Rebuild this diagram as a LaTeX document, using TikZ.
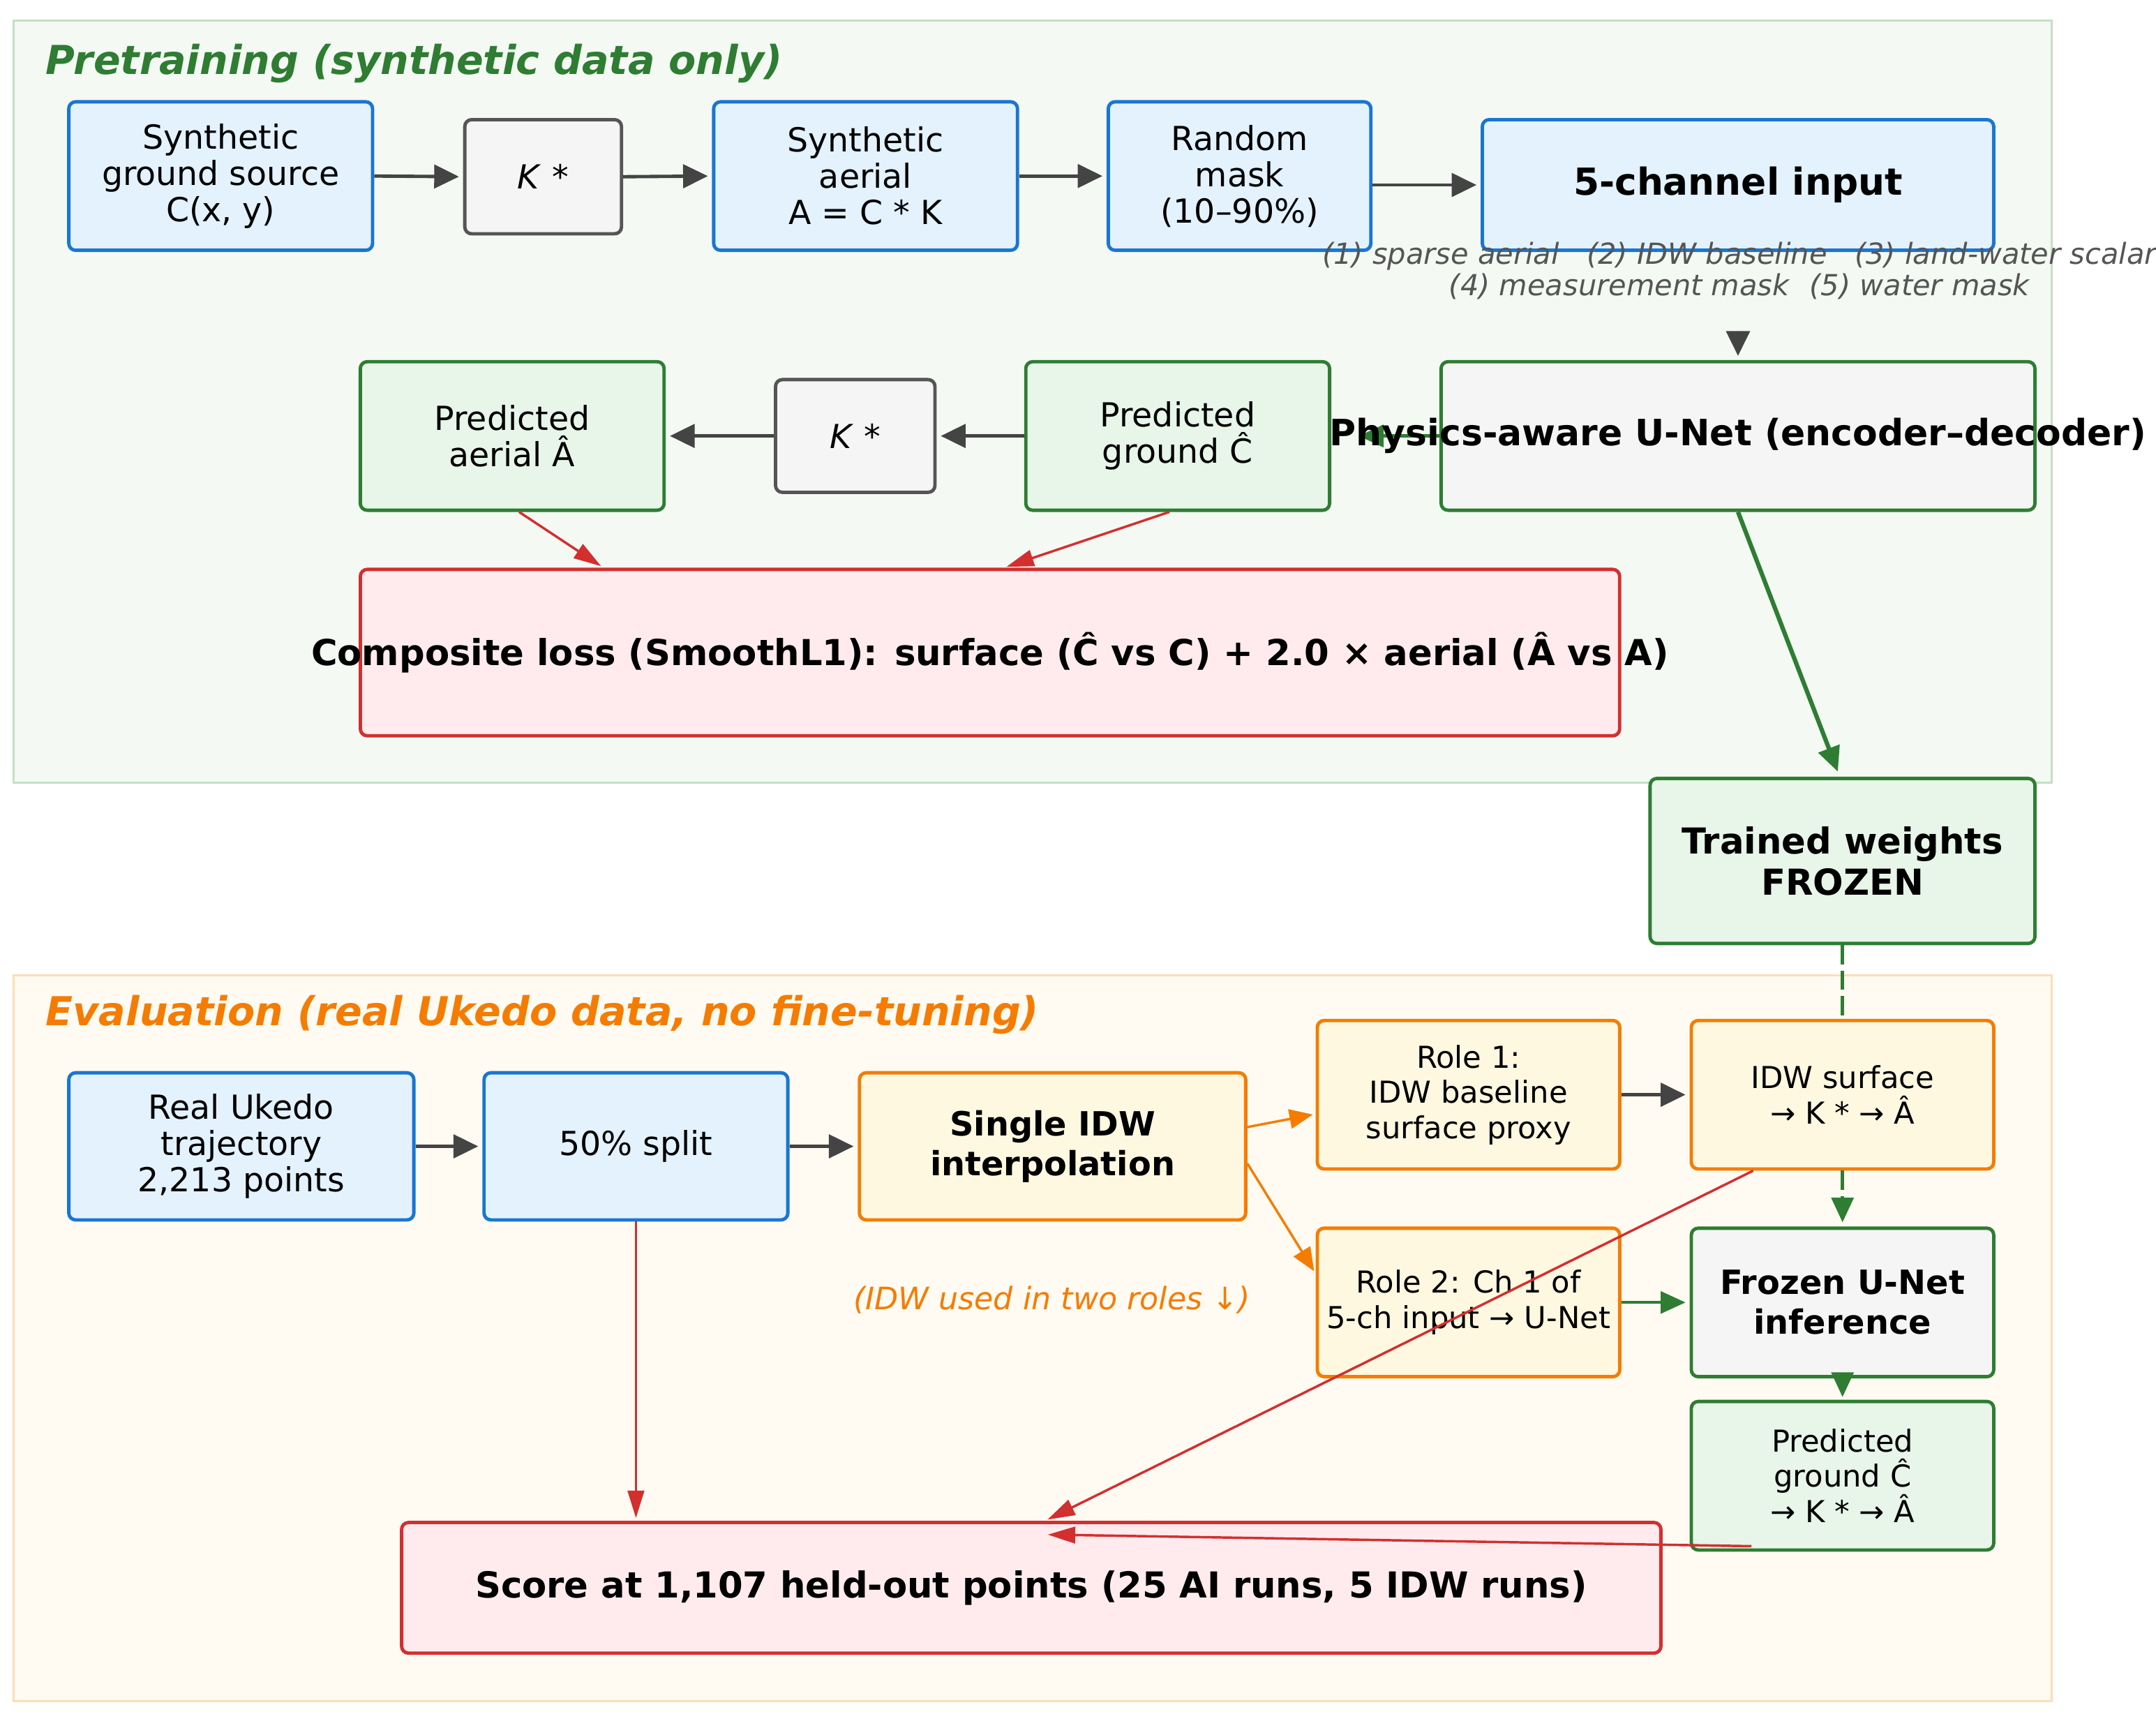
\documentclass[tikz,border=0pt]{standalone}
\usepackage{fontspec}
\setmainfont{DejaVu Sans}
\usepackage{xcolor}
\usetikzlibrary{arrows.meta,calc,backgrounds}
\definecolor{blueE}{HTML}{1976D2}
\definecolor{blueF}{HTML}{E3F2FD}
\definecolor{greenE}{HTML}{2E7D32}
\definecolor{greenF}{HTML}{E8F5E9}
\definecolor{orangeE}{HTML}{F57C00}
\definecolor{orangeF}{HTML}{FFF8E1}
\definecolor{redE}{HTML}{D32F2F}
\definecolor{redF}{HTML}{FFEBEE}
\definecolor{greyE}{HTML}{555555}
\definecolor{greyF}{HTML}{F5F5F5}
\definecolor{arrgrey}{HTML}{444444}
\definecolor{preF}{HTML}{F4F9F4}
\definecolor{preE}{HTML}{C3E0C4}
\definecolor{evalF}{HTML}{FFFBF3}
\definecolor{evalE}{HTML}{FFDDB5}
\newcommand{\regfont}{\fontsize{13.7}{15}\selectfont}
\newcommand{\cellfont}{\fontsize{12.5}{14.6}\selectfont}
\newcommand{\heavyfont}{\fontsize{14.8}{17}\selectfont\bfseries}
\newcommand{\cellheavy}{\fontsize{13.8}{16.5}\selectfont\bfseries}

\begin{document}
\begin{tikzpicture}[x=0.02cm, y=-0.02cm,
    box/.style={draw, rounded corners=0.1cm, line width=1.4pt,
                align=center, inner sep=2pt, font=\regfont},
    bluebox/.style={box, draw=blueE, fill=blueF},
    greenbox/.style={box, draw=greenE, fill=greenF},
    orangebox/.style={box, draw=orangeE, fill=orangeF, font=\cellfont},
    redbox/.style={box, draw=redE, fill=redF, font=\heavyfont},
    greybox/.style={box, draw=greyE, fill=greyF},
    netbox/.style={box, draw=greenE, fill=greyF, font=\heavyfont},
    paneltitle/.style={anchor=west, inner sep=0pt,
                       font=\fontsize{16.5}{19}\selectfont\bfseries\itshape},
    arr/.style={-{Triangle[length=0.36cm, width=0.34cm]}, line width=1.4pt,
                draw=arrgrey, shorten >=0.06cm},
    garr/.style={-{Triangle[length=0.36cm, width=0.32cm]}, line width=1.4pt,
                 draw=greenE},
    oarr/.style={-{Triangle[length=0.34cm, width=0.28cm]}, line width=1pt,
                 draw=orangeE, shorten >=0.04cm},
    rarr/.style={-{Triangle[length=0.4cm, width=0.24cm]}, line width=1pt,
                 draw=redE, shorten >=0.04cm},
  ]
    \useasboundingbox (0,0) rectangle (1568,1256);

    % panels
    \begin{scope}[on background layer]
      \draw[preE, fill=preF, line width=0.8pt] (10,15) rectangle (1492,569);
      \draw[evalE, fill=evalF, line width=0.8pt] (10,709) rectangle (1492,1237);
    \end{scope}

    % Pretraining
    \node[paneltitle, text=greenE] (pretitle) at (33,46)
      {Pretraining (synthetic data only)};

    \node[bluebox, minimum width=4.42cm, minimum height=2.16cm] (src) at (160.5,128)
      {Synthetic\\ground source\\C(x, y)};
    \node[greybox, minimum width=2.28cm, minimum height=1.66cm] (kpre) at (395,128.5)
      {\textit{K} *};
    \node[bluebox, minimum width=4.42cm, minimum height=2.16cm] (aer) at (629.5,128)
      {Synthetic\\aerial\\A = C * K};
    \node[bluebox, minimum width=3.82cm, minimum height=2.16cm] (mask) at (901.5,128)
      {Random\\mask\\(10–90\%)};
    \node[bluebox, minimum width=7.44cm, minimum height=1.9cm,
          font=\fontsize{15.4}{18}\selectfont\bfseries] (inp) at (1264,134.5)
      {5-channel input};
    \node[font=\fontsize{12}{13.1}\selectfont\itshape, text=greyE, align=center]
      (chans) at (1265,197)
      {(1) sparse aerial\hspace{0.95em}(2) IDW baseline\hspace{0.95em}(3) land-water scalar\\
       (4) measurement mask\hspace{0.7em}(5) water mask};
    \coordinate (chend) at (1264,246);

    \node[netbox, minimum width=8.64cm, minimum height=2.16cm,
          font=\fontsize{15}{17}\selectfont\bfseries] (unet) at (1264,317)
      {\makebox[0pt]{Physics-aware U-Net (encoder–decoder)}};
    \node[greenbox, minimum width=4.42cm, minimum height=2.16cm] (pgr) at (856.5,317)
      {Predicted\\ground Ĉ};
    \node[greybox, minimum width=2.32cm, minimum height=1.64cm] (kmid) at (622,317)
      {\textit{K} *};
    \node[greenbox, minimum width=4.42cm, minimum height=2.16cm] (pae) at (372.5,317)
      {Predicted\\aerial Â};

    \node[redbox, minimum width=18.32cm, minimum height=2.42cm] (loss) at (720,474.5)
      {\makebox[0pt]{Composite loss (SmoothL1): surface (Ĉ vs C) + 2.0 × aerial (Â vs A)}};

    \node[greenbox, font=\heavyfont, minimum width=5.6cm, minimum height=2.4cm]
      (frz) at (1340,626) {Trained weights\\FROZEN};

    \draw[arr] (src.east) -- (kpre.west);
    \draw[arr] (kpre.east) -- (aer.west);
    \draw[arr] (aer.east) -- (mask.west);
    \draw[arr] (mask.east |- inp.west) -- (inp.west);
    \draw[arr] (chend) -- (unet.north);
    \draw[arr] (pgr.west) -- (kmid.east);
    \draw[arr] (kmid.west) -- (pae.east);
    \draw[rarr] ([xshift=0.1cm]pae.south) -- ([xshift=3.56cm]loss.north west);
    \draw[rarr] ([xshift=-0.12cm]pgr.south) -- ([xshift=0.2cm]loss.north);
    \draw[garr, line width=1.8pt, shorten >=0.08cm] (unet.south) -- ([xshift=-0.04cm]frz.north);
    \begin{scope}[on background layer]
      \draw[garr, shorten >=0.4cm] (unet.west) -- (pgr.east);
    \end{scope}

    % Evaluation
    \node[paneltitle, text=orangeE] (evaltitle) at (33,738)
      {Evaluation (real Ukedo data, no fine-tuning)};

    \node[bluebox, minimum width=5.02cm, minimum height=2.14cm] (real) at (175.5,833.5)
      {Real Ukedo\\trajectory\\2,213 points};
    \node[bluebox, minimum width=4.42cm, minimum height=2.14cm] (split) at (462.5,833.5)
      {50\% split};
    \node[orangebox, font=\cellheavy, minimum width=5.62cm, minimum height=2.14cm]
      (idw) at (765.5,833.5) {Single IDW\\interpolation};
    \node[orangebox, minimum width=4.4cm, minimum height=2.16cm] (role1) at (1068,796)
      {Role 1:\\IDW baseline\\surface proxy};
    \node[orangebox, minimum width=4.4cm, minimum height=2.16cm] (role2) at (1068,947)
      {Role 2: Ch 1 of\\5-ch input → U-Net};
    \node[orangebox, minimum width=4.4cm, minimum height=2.16cm] (surf) at (1340,796)
      {IDW surface\\→ K * → Â};
    \node[netbox, font=\cellheavy, minimum width=4.4cm, minimum height=2.16cm]
      (finf) at (1340,947) {Frozen U-Net\\inference};
    \node[greenbox, font=\cellfont, minimum width=4.4cm, minimum height=2.16cm]
      (pgr2) at (1340,1073) {Predicted\\ground Ĉ\\→ K * → Â};
    \node[redbox, minimum width=18.32cm, minimum height=1.9cm] (score) at (750,1154.5)
      {Score at 1,107 held-out points (25 AI runs, 5 IDW runs)};
    \node[font=\fontsize{12.8}{14}\selectfont\itshape, text=orangeE] (note) at (765,945)
      {(IDW used in two roles ↓)};

    \draw[arr] (real.east) -- (split.west);
    \draw[arr] (split.east) -- (idw.west);
    \draw[oarr] ([yshift=0.28cm]idw.east) -- ([yshift=-0.28cm]role1.west);
    \draw[oarr] ([yshift=-0.25cm]idw.east) -- ([yshift=0.42cm]role2.west);
    \draw[arr] (role1.east) -- (surf.west);
    \draw[garr, line width=1.1pt, shorten >=0.06cm] (role2.east) -- (finf.west);
    \draw[greenE, line width=1.4pt, dash pattern=on 8pt off 2.5pt] (frz.south) -- (surf.north);
    \draw[garr, dash pattern=on 8pt off 2.5pt, shorten >=0.06cm] (surf.south) -- (finf.north);
    \draw[garr, shorten >=0.04cm] (finf.south) -- (pgr2.north);
    \draw[rarr] (split.south) -- (split.south |- score.north);
    \draw[rarr] ([xshift=-1.3cm]surf.south) -- ([xshift=0.2cm]score.north);
    \draw[rarr] ([shift={(0.9cm,0.08cm)}]pgr2.south west) -- ([shift={(0.2cm,-0.2cm)}]score.north);
\end{tikzpicture}
\end{document}
